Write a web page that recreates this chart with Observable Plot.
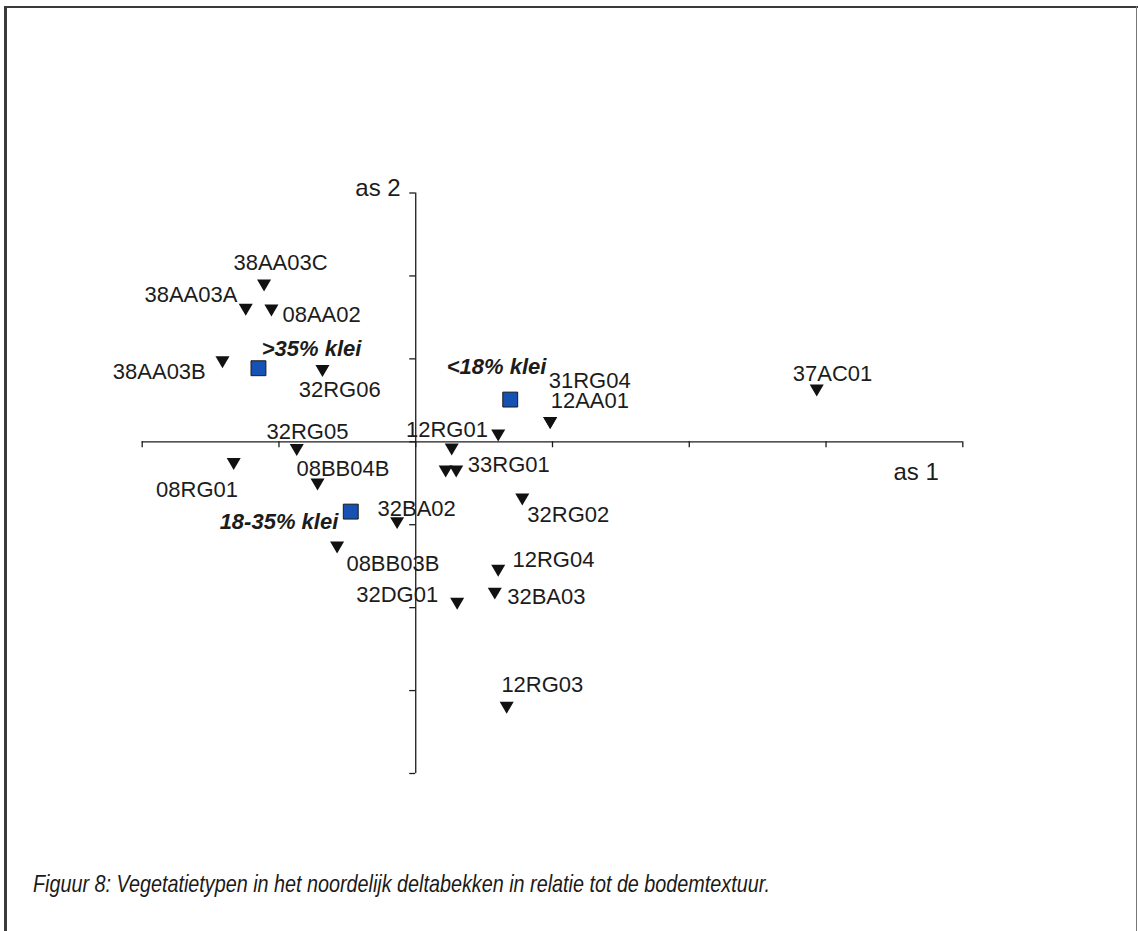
<!DOCTYPE html>
<html><head><meta charset="utf-8">
<script src="https://cdn.jsdelivr.net/npm/d3@7"></script>
<script src="https://cdn.jsdelivr.net/npm/@observablehq/plot@0.6"></script>
<style>
html,body{margin:0;padding:0;background:#fff;}
#page{position:relative;width:1138px;height:931px;overflow:hidden;background:#fff;}
#chart{position:absolute;left:0;top:0;}
.frame{position:absolute;background:#3a3a3a;}
#caption{position:absolute;left:33px;top:872px;font-family:"Liberation Sans Narrow","Arial Narrow","Liberation Sans",Arial,sans-serif;font-style:italic;font-size:24px;line-height:24px;color:#1a1a1a;white-space:nowrap;transform-origin:0 0;}
</style></head><body>
<div id="page">
  <div class="frame" style="left:4px;top:6px;width:1134px;height:2px"></div>
  <div class="frame" style="left:4px;top:6px;width:3px;height:925px"></div>
  <div class="frame" style="left:1136px;top:6px;width:1px;height:925px;background:#777"></div>
  <div id="chart"></div>
  <div id="caption">Figuur 8: Vegetatietypen in het noordelijk deltabekken in relatie tot de bodemtextuur.</div>
</div>
<script>
// ---- data (ordination scores) ----
const siteNames = ["38AA03C","38AA03A","08AA02","38AA03B","32RG06","32RG05","12RG01","31RG04","12AA01","37AC01","33RG01a","33RG01b","33RG01","08RG01","08BB04B","32BA02","08BB03B","32RG02","12RG04","32BA03","32DG01","12RG03"];
const siteX = [-1.109,-1.243,-1.055,-1.413,-0.682,-0.870,0.603,0.983,0.983,2.932,0.263,0.219,0.296,-1.331,-0.718,-0.136,-0.575,0.779,0.603,0.578,0.303,0.665];
const siteY = [1.884,1.592,1.583,0.959,0.853,-0.100,0.075,0.226,0.226,0.618,-0.094,-0.359,-0.359,-0.269,-0.516,-0.981,-1.276,-0.697,-1.554,-1.831,-1.952,-3.206];
const siteLabels = ["38AA03C","38AA03A","08AA02","38AA03B","32RG06","32RG05","12RG01","31RG04","12AA01","37AC01","","","33RG01","08RG01","08BB04B","32BA02","08BB03B","32RG02","12RG04","32BA03","32DG01","12RG03"];

const classNames = [">35% klei","<18% klei","18-35% klei"];
const classX = [-1.150,0.691,-0.475];
const classY = [0.887,0.509,-0.842];

const xTicks = [-2,-1,0,1,2,3,4];
const yTicks = [-4,-3,-2,-1,0,1,2,3];
const axisTitles = ["as 1","as 2"];

// ---- layout: label offsets in pixels relative to the marker ----
const labelPlace = {
  "38AA03C":[-30.6,-15.7,"start"], "38AA03A":[-8.3,-7.3,"end"], "08AA02":[11,11.7,"start"],
  "38AA03B":[-16.7,16.6,"end"], "32RG06":[-23.7,25.5,"start"], "32RG05":[-30.3,-11.2,"start"],
  "12RG01":[-10.3,1.7,"end"], "31RG04":[-1.5,-35,"start"], "12AA01":[0.5,-15,"start"],
  "37AC01":[-24,-9.5,"start"], "33RG01":[11.6,0,"start"], "08RG01":[-77.6,33.2,"start"],
  "08BB04B":[-21.1,-9,"start"], "32BA02":[-19.6,-7.5,"start"], "08BB03B":[9.3,23,"start"],
  "32RG02":[5,22.7,"start"], "12RG04":[14.3,-3.3,"start"], "32BA03":[12.4,10.3,"start"],
  "32DG01":[-19,-1.3,"end"], "12RG03":[-5.3,-15.3,"start"]
};
const classPlace = {">35% klei":[3.3,-12.7,"start"], "<18% klei":[-63.5,-25.7,"start"], "18-35% klei":[-12.5,17,"end"]};

const sites = siteNames.map((n,i)=>({name:n, x:siteX[i], y:siteY[i], label:siteLabels[i]}));
const classes = classNames.map((n,i)=>({name:n, x:classX[i], y:classY[i]}));

const triDown = {draw(ctx, size){ const r=Math.sqrt(size/Math.PI); const hw=1.35*r, hh=1.15*r;
  ctx.moveTo(-hw,-hh); ctx.lineTo(hw,-hh); ctx.lineTo(0,hh); ctx.closePath(); }};

const ink = "#1c1c1c";
const font = "'Liberation Sans', Arial, sans-serif";

const siteText = sites.filter(d=>d.label).map(d=>{
  const [dx,dy,a] = labelPlace[d.label];
  return Plot.text([d],{x:"x",y:"y",text:"label",dx,dy,textAnchor:a,lineAnchor:"bottom",fontSize:22,fill:ink});
});
const classText = classes.map(d=>{
  const [dx,dy,a] = classPlace[d.name];
  return Plot.text([d],{x:"x",y:"y",text:"name",dx,dy,textAnchor:a,lineAnchor:"bottom",fontSize:22,fontWeight:"bold",fontStyle:"italic",fill:ink});
});

const chart = Plot.plot({
  width:1138, height:840,
  marginLeft:141.7, marginRight:175.7, marginTop:192.5, marginBottom:67,
  x:{domain:[-2,4], axis:null},
  y:{domain:[-4,3], axis:null},
  style:{fontFamily:font, background:"transparent", color:ink},
  marks:[
    Plot.ruleY([0],{x1:-2,x2:4,stroke:ink,strokeWidth:1.3}),
    Plot.ruleX([0],{y1:-4,y2:3,stroke:ink,strokeWidth:1.3}),
    Plot.ruleX(xTicks,{x:d=>d,y1:0,y2:0,insetBottom:-6,stroke:ink,strokeWidth:1.3}),
    Plot.ruleY(yTicks,{y:d=>d,x1:0,x2:0,insetLeft:-6,stroke:ink,strokeWidth:1.3}),
    Plot.text([axisTitles[0]],{x:4,y:0,text:d=>d,dx:-24,dy:38.5,textAnchor:"end",lineAnchor:"bottom",fontSize:24,fill:ink}),
    Plot.text([axisTitles[1]],{x:0,y:3,text:d=>d,dx:-15,dy:3,textAnchor:"end",lineAnchor:"bottom",fontSize:24,fill:ink}),
    Plot.dot(sites,{x:"x",y:"y",symbol:triDown,r:5.2,fill:"#111",stroke:"none"}),
    Plot.dot(classes,{x:"x",y:"y",symbol:"square",r:8.4,fill:"#1552b3",stroke:"#1a1a1a",strokeWidth:1}),
    ...siteText,
    ...classText
  ]
});
document.getElementById("chart").appendChild(chart);

const cap = document.getElementById("caption");
const w = cap.getBoundingClientRect().width;
if (w > 0) cap.style.transform = `scaleX(${737 / w})`;
</script>
</body></html>
